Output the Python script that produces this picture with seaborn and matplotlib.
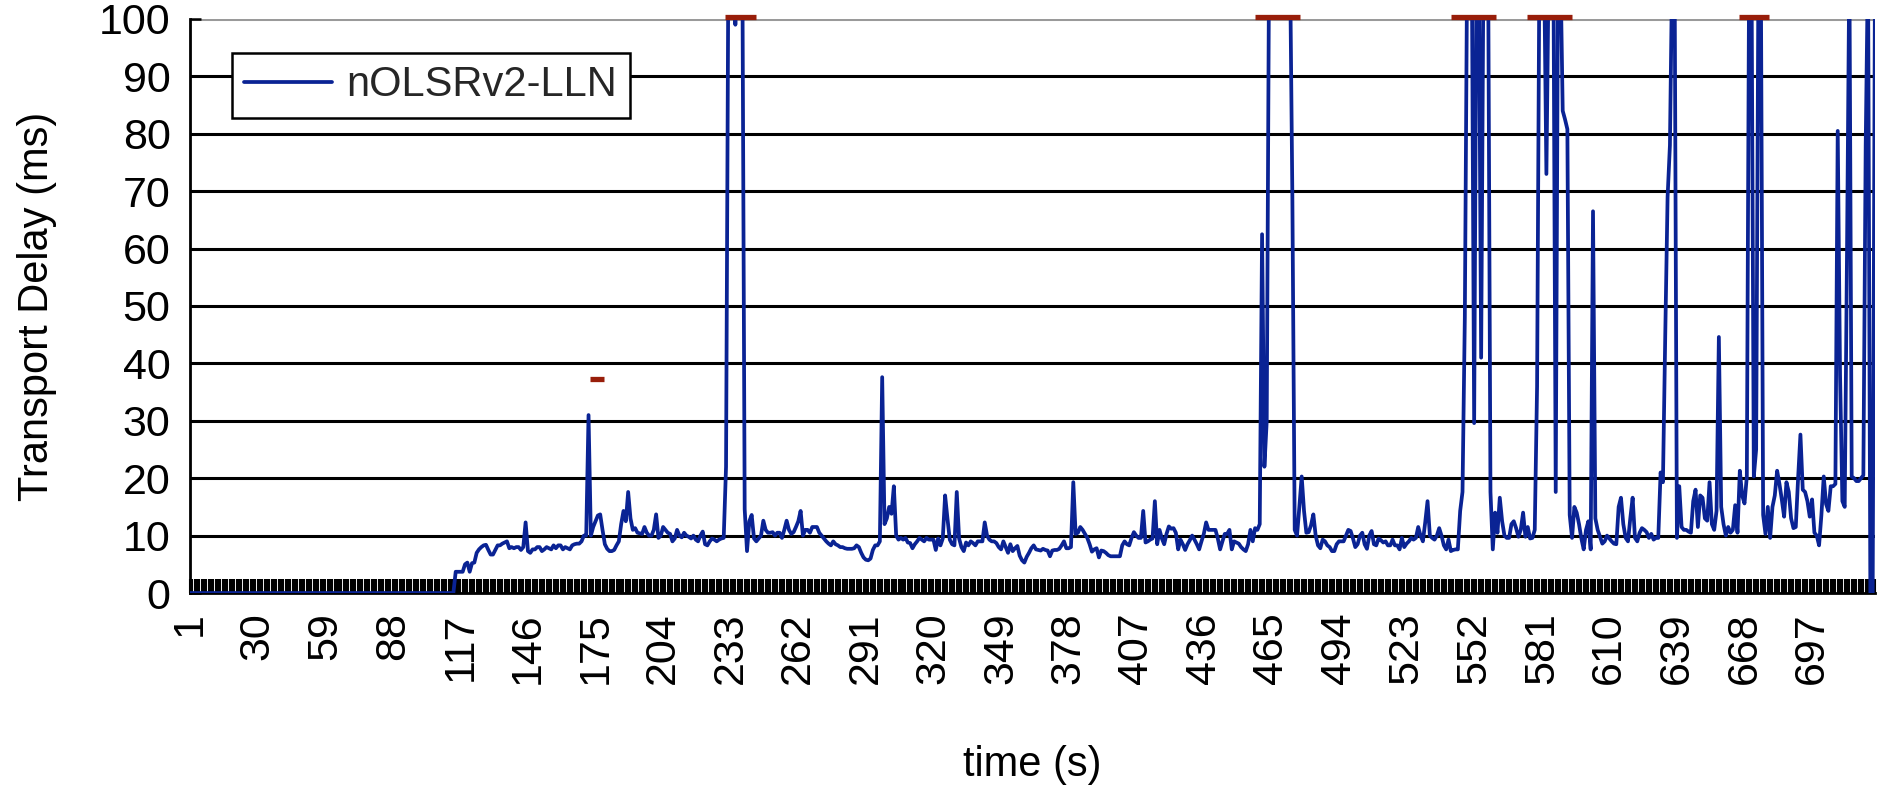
import matplotlib
matplotlib.use("Agg")
import matplotlib.pyplot as plt
from matplotlib.ticker import FixedLocator, MultipleLocator
import seaborn as sns
import pandas as pd

# ---------------- data ----------------
time_s = list(range(1, 725))

delay_001_100 = [
    0, 0, 0, 0, 0, 0, 0, 0, 0, 0,
    0, 0, 0, 0, 0, 0, 0, 0, 0, 0,
    0, 0, 0, 0, 0, 0, 0, 0, 0, 0,
    0, 0, 0, 0, 0, 0, 0, 0, 0, 0,
    0, 0, 0, 0, 0, 0, 0, 0, 0, 0,
    0, 0, 0, 0, 0, 0, 0, 0, 0, 0,
    0, 0, 0, 0, 0, 0, 0, 0, 0, 0,
    0, 0, 0, 0, 0, 0, 0, 0, 0, 0,
    0, 0, 0, 0, 0, 0, 0, 0, 0, 0,
    0, 0, 0, 0, 0, 0, 0, 0, 0, 0,
]
delay_101_200 = [
    0, 0, 0, 0, 0, 0, 0, 0, 0, 0,
    0, 0, 0, 0, 3.7, 3.7, 3.7, 3.7, 5.0, 5.3,
    3.7, 5.2, 5.3, 7.0, 7.6, 8.0, 8.3, 8.4, 7.5, 6.7,
    6.7, 7.5, 8.3, 8.3, 8.6, 8.8, 9.0, 7.8, 8.0, 7.8,
    8.0, 8.0, 7.5, 8.0, 12.3, 7.3, 7.0, 7.6, 7.6, 8.0,
    8.0, 7.3, 7.6, 8.0, 7.8, 7.6, 8.3, 7.8, 8.3, 8.3,
    7.6, 8.0, 7.8, 7.6, 8.3, 8.5, 8.6, 8.6, 9.0, 10.0,
    10.0, 31.0, 10.0, 11.5, 12.5, 13.5, 13.7, 11.0, 8.5, 7.7,
    7.3, 7.3, 7.5, 8.3, 9.0, 12.0, 14.3, 12.5, 17.6, 13.0,
    11.0, 11.3, 10.5, 10.4, 10.3, 11.5, 10.5, 10.0, 10.0, 11.0,
]
delay_201_300 = [
    13.7, 9.6, 10.0, 11.5, 11.0, 10.5, 10.3, 9.0, 9.5, 11.0,
    10.0, 9.7, 10.5, 10.0, 9.8, 9.5, 10.0, 9.3, 9.0, 10.0,
    10.7, 8.5, 8.3, 9.0, 9.5, 9.3, 9.0, 9.3, 9.5, 9.6,
    22.0, 110, 110, 110, 99.0, 110, 110, 110, 14.6, 7.3,
    12.5, 13.6, 9.5, 9.0, 9.5, 10.0, 12.6, 11.0, 10.5, 10.5,
    10.6, 10.0, 10.5, 10.5, 9.6, 11.0, 12.6, 11.0, 10.3, 10.6,
    11.5, 12.5, 14.3, 10.0, 11.0, 11.0, 10.5, 11.5, 11.5, 11.5,
    10.5, 10.0, 9.5, 9.0, 8.6, 8.3, 9.0, 8.5, 8.3, 8.0,
    8.0, 7.8, 7.7, 7.7, 7.7, 7.8, 8.3, 8.0, 7.0, 6.2,
    5.8, 5.7, 6.0, 7.5, 8.3, 8.3, 9.0, 37.6, 12.0, 13.0,
]
delay_301_400 = [
    15.0, 13.8, 18.6, 10.0, 9.3, 9.6, 9.3, 9.6, 8.8, 8.7,
    7.8, 8.5, 9.0, 9.6, 9.3, 9.0, 9.6, 9.3, 9.3, 9.3,
    7.5, 9.5, 8.3, 9.5, 17.0, 13.0, 9.3, 8.5, 8.3, 17.6,
    9.5, 8.0, 7.3, 8.8, 8.3, 9.0, 8.7, 8.3, 9.0, 9.0,
    9.0, 12.3, 10.0, 9.3, 9.0, 9.0, 8.7, 8.0, 7.6, 9.0,
    8.0, 7.0, 8.5, 7.3, 7.8, 8.2, 6.5, 5.7, 5.3, 6.3,
    7.0, 7.8, 8.3, 7.6, 7.5, 7.4, 7.7, 7.5, 7.4, 6.4,
    7.4, 7.5, 7.5, 7.7, 8.3, 9.0, 7.8, 7.8, 8.0, 19.3,
    10.3, 10.5, 11.5, 11.0, 10.3, 9.6, 8.5, 7.2, 7.6, 7.8,
    6.2, 7.4, 7.3, 7.0, 6.6, 6.4, 6.4, 6.4, 6.4, 6.4,
]
delay_401_500 = [
    8.3, 9.0, 8.5, 8.3, 9.6, 10.6, 10.0, 9.6, 9.6, 14.3,
    8.8, 9.0, 9.3, 9.5, 16.0, 8.5, 11.0, 9.5, 8.5, 10.3,
    11.6, 11.2, 11.3, 10.5, 7.6, 9.3, 8.5, 7.5, 8.5, 9.2,
    10.0, 9.3, 8.5, 7.6, 9.0, 10.3, 12.3, 11.0, 11.0, 11.0,
    11.0, 9.5, 7.6, 9.0, 10.3, 10.3, 11.0, 7.6, 9.0, 8.8,
    8.6, 8.0, 7.6, 7.3, 8.5, 11.0, 9.0, 11.3, 11.0, 12.0,
    62.5, 22.0, 30.0, 110, 110, 110, 110, 110, 110, 110,
    110, 110, 110, 69.0, 11.0, 10.0, 15.0, 20.3, 14.3, 10.5,
    10.6, 11.8, 13.7, 10.0, 8.3, 7.8, 9.3, 9.0, 8.3, 8.0,
    7.3, 7.3, 8.5, 9.0, 9.0, 9.0, 10.0, 11.0, 10.8, 9.5,
]
delay_501_600 = [
    8.0, 8.5, 10.0, 10.5, 8.5, 7.7, 10.0, 10.8, 8.5, 8.3,
    9.5, 9.2, 8.8, 9.0, 8.3, 8.3, 9.3, 8.3, 8.3, 7.6,
    9.6, 8.0, 8.6, 9.0, 9.6, 9.3, 9.6, 11.5, 10.0, 9.0,
    12.3, 16.0, 10.0, 9.6, 9.3, 10.0, 11.3, 10.0, 8.3, 7.6,
    9.3, 7.3, 7.5, 7.6, 7.6, 14.3, 17.6, 48.0, 110, 110,
    110, 29.6, 110, 110, 41.0, 110, 110, 110, 17.6, 7.6,
    14.0, 10.5, 16.6, 12.5, 10.0, 9.6, 9.6, 12.0, 12.5, 11.3,
    9.8, 11.0, 14.0, 9.8, 11.5, 9.5, 9.6, 11.0, 36.0, 110,
    110, 110, 73.0, 110, 110, 110, 17.6, 110, 110, 84.0,
    82.5, 80.8, 13.6, 9.6, 15.0, 14.0, 12.0, 9.5, 7.6, 11.0,
]
delay_601_700 = [
    12.5, 7.6, 66.5, 13.0, 11.0, 9.8, 8.6, 9.0, 10.0, 9.5,
    9.0, 8.6, 8.5, 15.0, 16.6, 12.0, 9.6, 9.0, 13.0, 16.6,
    9.6, 9.0, 10.5, 11.3, 11.0, 10.6, 9.6, 10.3, 9.3, 9.6,
    9.6, 21.0, 19.3, 45.0, 69.0, 78.0, 110, 110, 9.6, 18.6,
    11.5, 11.0, 11.0, 10.7, 10.5, 16.0, 18.0, 11.5, 17.0, 16.6,
    13.0, 12.6, 19.3, 12.0, 11.0, 14.3, 44.6, 15.0, 12.0, 10.0,
    11.5, 10.5, 11.0, 15.3, 10.5, 21.3, 17.0, 15.6, 20.3, 110,
    110, 20.3, 25.0, 110, 110, 13.6, 10.3, 15.0, 9.6, 15.0,
    17.0, 21.3, 19.0, 16.3, 13.3, 19.3, 17.6, 13.0, 11.3, 11.5,
    20.0, 27.6, 18.0, 17.6, 16.0, 13.3, 16.3, 10.5, 10.0, 8.3,
]
delay_701_724 = [
    13.6, 20.3, 15.5, 14.3, 18.6, 18.6, 19.0, 80.5, 38.0, 16.0,
    15.0, 60.0, 110, 20.3, 20.0, 19.5, 19.5, 20.0, 20.5, 78.0,
    110, 0, 0, 110,
]

# red dash marks (second series: start, end on the time axis, level in ms)
mark_start = [172.5, 230.6, 458.0, 542.2, 574.6, 665.5]
mark_end = [178.7, 243.8, 477.4, 561.5, 594.0, 678.6]
mark_level = [37.3, 100.3, 100.3, 100.3, 100.3, 100.3]

y_ticks = [0, 10, 20, 30, 40, 50, 60, 70, 80, 90, 100]
x_tick_labels = [1, 30, 59, 88, 117, 146, 175, 204, 233, 262, 291, 320, 349,
                 378, 407, 436, 465, 494, 523, 552, 581, 610, 639, 668, 697]

delay_ms = (delay_001_100 + delay_101_200 + delay_201_300 + delay_301_400
            + delay_401_500 + delay_501_600 + delay_601_700 + delay_701_724)

df = pd.DataFrame({"time": time_s, "delay": delay_ms})

# ---------------- style ----------------
sns.set_theme(style="white")
plt.rcParams["font.family"] = ["Liberation Sans", "DejaVu Sans"]
BLUE = "#0a2394"
RED = "#981e0a"
TICK_FONT = ["Liberation Sans Narrow", "Liberation Sans", "DejaVu Sans"]

fig = plt.figure(figsize=(18.85, 7.91), dpi=100)
fig.patch.set_facecolor("white")
ax = fig.add_axes([0.1008, 0.2503, 0.8939, 0.7257])
ax.set_facecolor("white")

sns.lineplot(data=df, x="time", y="delay", ax=ax, color=BLUE, linewidth=2.7,
             estimator=None, errorbar=None, label="nOLSRv2-LLN", zorder=3)

ax.hlines(mark_level, mark_start, mark_end, colors=RED, linewidth=3.8,
          zorder=4, clip_on=False)

ax.set_xlim(1, 724)
ax.set_ylim(0, 100)

ax.yaxis.set_major_locator(FixedLocator(y_ticks))
ax.set_yticklabels([str(v) for v in y_ticks])
ax.xaxis.set_major_locator(FixedLocator(x_tick_labels))
ax.set_xticklabels([str(v) for v in x_tick_labels], rotation=90)
ax.xaxis.set_minor_locator(MultipleLocator(1))

ax.grid(False)
ax.yaxis.grid(True, color="black", linewidth=2.2, zorder=1)
ax.set_axisbelow(True)
ax.get_ygridlines()[-1].set_color("#9a9a9a")
ax.get_ygridlines()[0].set_visible(False)

for s in ["top", "right"]:
    ax.spines[s].set_visible(False)
for s in ["left", "bottom"]:
    ax.spines[s].set_color("black")
    ax.spines[s].set_linewidth(2.0)

ax.tick_params(axis="y", which="major", direction="in", length=8, width=1.8,
               color="black", pad=14, left=True)
ax.tick_params(axis="x", which="both", direction="in", length=10, width=1.5,
               color="black", pad=14, bottom=True)
for lab in ax.get_xticklabels() + ax.get_yticklabels():
    lab.set_fontfamily(TICK_FONT)
    lab.set_fontsize(31)
    lab.set_color("black")

ax.set_xlabel("time (s)", fontsize=30, color="black")
ax.set_ylabel("Transport Delay (ms)", fontsize=30, color="black")
ax.xaxis.set_label_coords(0.5, -0.265)
ax.yaxis.set_label_coords(-0.079, 0.5)

leg = ax.legend(loc="upper left", bbox_to_anchor=(0.0249, 0.9408),
                borderaxespad=0, fontsize=30, frameon=True, fancybox=False,
                framealpha=1, edgecolor="black", borderpad=0.3,
                handlelength=2.1, handletextpad=0.35)
leg.get_frame().set_linewidth(1.8)
leg.set_zorder(5)
for line in leg.get_lines():
    line.set_linewidth(2.7)

fig.savefig("out.png", dpi=100, facecolor="white")
